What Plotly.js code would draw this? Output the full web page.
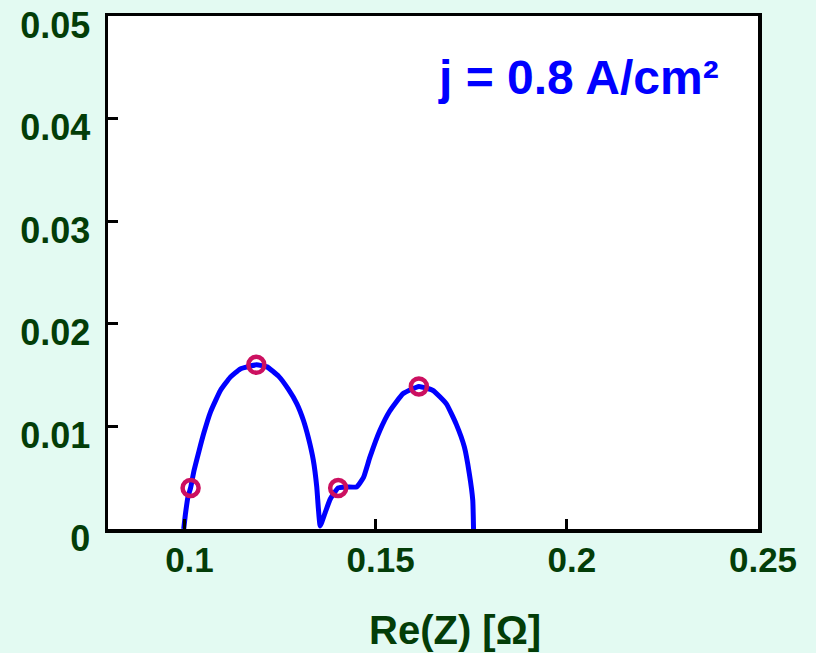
<!DOCTYPE html>
<html>
<head>
<meta charset="utf-8">
<script src="https://cdn.plot.ly/plotly-3.0.1.min.js"></script>
<style>html,body{margin:0;padding:0;background:#e3faf2;}#chart{width:816px;height:653px;}</style>
</head>
<body>
<div id="chart"></div>
<script>
// Nyquist curve (Re(Z) vs -Im(Z))
const curveRe = [0.0998, 0.1003, 0.1009, 0.1016, 0.1025, 0.1038, 0.1051, 0.1068, 0.1094, 0.1120, 0.1146, 0.1188, 0.1216, 0.1246, 0.1272, 0.1294, 0.1311, 0.1324, 0.1337, 0.1346, 0.1350, 0.1355, 0.1368, 0.1381, 0.1402, 0.1424, 0.1450, 0.1468, 0.1485, 0.1511, 0.1537, 0.1572, 0.1613, 0.1650, 0.1685, 0.1711, 0.1732, 0.1745, 0.1754, 0.1756];
const curveIm = [0.0000, 0.0016, 0.0031, 0.0040, 0.0057, 0.0076, 0.0094, 0.0114, 0.0135, 0.0148, 0.0156, 0.0160, 0.0158, 0.0149, 0.0136, 0.0122, 0.0106, 0.0089, 0.0067, 0.0041, 0.0021, 0.0003, 0.0016, 0.0029, 0.0040, 0.0041, 0.0041, 0.0050, 0.0070, 0.0096, 0.0115, 0.0132, 0.0139, 0.0135, 0.0122, 0.0102, 0.0080, 0.0054, 0.0028, 0.0000];
// highlighted frequency points
const markRe = [0.1016, 0.1188, 0.1402, 0.1613];
const markIm = [0.0040, 0.0160, 0.0040, 0.0139];
// axis ticks
const xTicks = [0.1, 0.15, 0.2, 0.25];
const xTickText = ['0.1', '0.15', '0.2', '0.25'];
const yTicks = [0, 0.01, 0.02, 0.03, 0.04, 0.05];
const yTickText = ['0', '0.01', '0.02', '0.03', '0.04', '0.05'];
const xTitle = 'Re(Z) [Ω]';
const label = 'j = 0.8 A/cm²';

const green = '#033d08';
const fontFam = 'Liberation Sans, Arial, sans-serif';

const traces = [
  {x: curveRe, y: curveIm, mode: 'lines', type: 'scatter',
   line: {color: '#0000ff', width: 5, shape: 'spline', smoothing: 0.4}, hoverinfo: 'skip'},
  {x: markRe, y: markIm, mode: 'markers', type: 'scatter',
   marker: {symbol: 'circle-open', size: 16, color: '#cc1060', line: {width: 4.5, color: '#cc1060'}}}
];

const layout = {
  width: 816, height: 653,
  margin: {l: 108, r: 58, t: 16, b: 124},
  paper_bgcolor: '#e3faf2',
  plot_bgcolor: '#ffffff',
  showlegend: false,
  xaxis: {
    range: [0.08, 0.25], tickvals: xTicks, ticktext: xTickText,
    ticks: 'inside', ticklen: 10, tickwidth: 3, tickcolor: '#000',
    showline: true, linewidth: 3.5, linecolor: '#000', mirror: true,
    showgrid: false, zeroline: false,
    tickfont: {family: fontFam, size: 35, color: green, weight: 'bold'},
    ticklabelstandoff: -3, ticklabelshift: 5
  },
  yaxis: {
    range: [0, 0.05], tickvals: yTicks, ticktext: yTickText,
    ticks: 'inside', ticklen: 10, tickwidth: 3, tickcolor: '#000',
    showline: true, linewidth: 3.5, linecolor: '#000', mirror: true,
    showgrid: false, zeroline: false,
    tickfont: {family: fontFam, size: 36, color: green, weight: 'bold'},
    ticklabelstandoff: 7, ticklabelshift: 9
  },
  annotations: [
    {text: label, xref: 'x', yref: 'y', x: 0.2030, y: 0.0440, showarrow: false,
     xanchor: 'center', yanchor: 'middle',
     font: {family: fontFam, size: 48, color: '#0000ff', weight: 'bold'}},
    {text: xTitle, xref: 'paper', yref: 'paper', x: 0.534, y: -0.197, showarrow: false,
     xanchor: 'center', yanchor: 'middle',
     font: {family: fontFam, size: 40, color: green, weight: 'bold'}}
  ]
};

Plotly.newPlot('chart', traces, layout, {displayModeBar: false, staticPlot: true});
</script>
</body>
</html>
